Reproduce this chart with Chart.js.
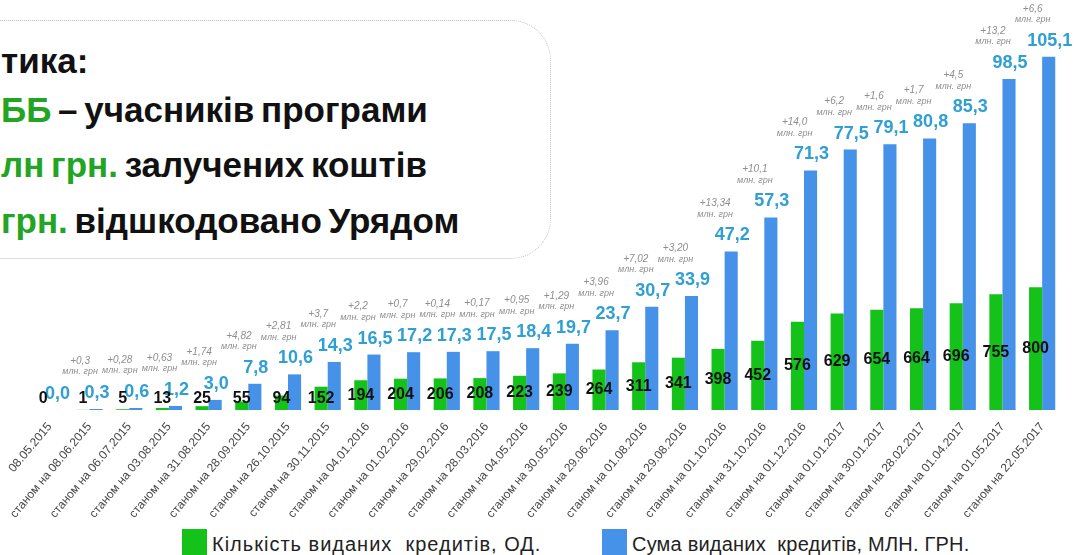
<!DOCTYPE html>
<html lang="uk">
<head>
<meta charset="UTF-8">
<title>Кредити</title>
<script src="https://cdn.jsdelivr.net/npm/chart.js"></script>
<style>
  html, body { margin: 0; padding: 0; background: #fff; }
  body { width: 1081px; height: 555px; overflow: hidden; position: relative; font-family: "Liberation Sans", Arial, sans-serif; }
  .chart-box { position: absolute; left: 0; top: 0; width: 1081px; height: 528px; }
  .info { position: absolute; left: -60px; top: 20px; width: 609px; height: 237px; border: 1.5px dotted #bdbdbd; border-radius: 40px; }
  .info p { position: absolute; left: 60px; margin: 0; font-weight: bold; font-size: 35px; color: #111; white-space: nowrap; line-height: 1; word-spacing: -3px; }
  .info .g { color: #22a522; }
  .legend .item { position: absolute; top: 529px; display: flex; align-items: flex-start; font-size: 20px; color: #222; white-space: nowrap; }
  .legend .sq { width: 25px; height: 28px; margin-right: 5px; }
  .legend .txt { padding-top: 4px; }
</style>
</head>
<body>
<div class="info">
  <p style="top:22px">тика:</p>
  <p style="top:71px"><span class="g">ББ</span> – учасників програми</p>
  <p style="top:126px"><span class="g">лн грн.</span> залучених коштів</p>
  <p style="top:182px"><span class="g">грн.</span> відшкодовано Урядом</p>
</div>
<div class="chart-box"><canvas id="loansChart"></canvas></div>
<div class="legend" id="legend"></div>

<script>
const dates = ['08.05.2015', 'станом на 08.06.2015', 'станом на 06.07.2015', 'станом на 03.08.2015',
  'станом на 31.08.2015', 'станом на 28.09.2015', 'станом на 26.10.2015', 'станом на 30.11.2015',
  'станом на 04.01.2016', 'станом на 01.02.2016', 'станом на 29.02.2016', 'станом на 28.03.2016',
  'станом на 04.05.2016', 'станом на 30.05.2016', 'станом на 29.06.2016', 'станом на 01.08.2016',
  'станом на 29.08.2016', 'станом на 01.10.2016', 'станом на 31.10.2016', 'станом на 01.12.2016',
  'станом на 01.01.2017', 'станом на 30.01.2017', 'станом на 28.02.2017', 'станом на 01.04.2017',
  'станом на 01.05.2017', 'станом на 22.05.2017'];

const loanCount = [0, 1, 5, 13, 25, 55, 94, 152, 194, 204, 206, 208, 223, 239, 264, 311, 341,
  398, 452, 576, 629, 654, 664, 696, 755, 800];

const loanSum = [0.0, 0.3, 0.6, 1.2, 3.0, 7.8, 10.6, 14.3, 16.5, 17.2, 17.3, 17.5, 18.4, 19.7,
  23.7, 30.7, 33.9, 47.2, 57.3, 71.3, 77.5, 79.1, 80.8, 85.3, 98.5, 105.1];

// прирости суми між датами, як підписано на слайді
const sumIncrease = ['', '+0,3', '+0,28', '+0,63', '+1,74', '+4,82', '+2,81', '+3,7', '+2,2', '+0,7',
  '+0,14', '+0,17', '+0,95', '+1,29', '+3,96', '+7,02', '+3,20', '+13,34', '+10,1', '+14,0',
  '+6,2', '+1,6', '+1,7', '+4,5', '+13,2', '+6,6'];

const seriesNames = ['Кількість виданих  кредитів, ОД.', 'Сума виданих  кредитів, МЛН. ГРН.'];
const seriesColors = ['#14c21a', '#4692e8'];

const FONT = '"Liberation Sans", Arial, sans-serif';

const barLabels = {
  id: 'barLabels',
  afterDatasetsDraw(chart) {
    const ctx = chart.ctx;
    const green = chart.getDatasetMeta(0).data;
    const blue = chart.getDatasetMeta(1).data;
    ctx.save();
    ctx.textAlign = 'center';
    ctx.textBaseline = 'middle';

    blue.forEach((bar, i) => {
      ctx.font = 'bold 18px ' + FONT;
      ctx.fillStyle = '#2f9fd4';
      ctx.fillText(loanSum[i].toFixed(1).replace('.', ','), bar.x + 1, bar.y - 16);
      if (sumIncrease[i]) {
        ctx.fillStyle = '#8e8e8e';
        ctx.font = 'italic 10px ' + FONT;
        ctx.fillText(sumIncrease[i], bar.x - 16, bar.y - 48);
        ctx.font = 'italic 9px ' + FONT;
        ctx.fillText('млн. грн', bar.x - 16, bar.y - 37);
      }
    });

    green.forEach((bar, i) => {
      const y = Math.min((bar.y + bar.base) / 2, bar.base - 11);
      ctx.font = 'bold 16px ' + FONT;
      ctx.fillStyle = '#111';
      ctx.fillText(String(loanCount[i]), bar.x, y);
    });
    ctx.restore();
  }
};

const loansChart = new Chart(document.getElementById('loansChart'), {
  type: 'bar',
  data: {
    labels: dates,
    datasets: [{
      label: seriesNames[0],
      data: loanCount,
      backgroundColor: seriesColors[0],
      yAxisID: 'yCount',
      categoryPercentage: 0.66,
      barPercentage: 1.0
    }, {
      label: seriesNames[1],
      data: loanSum,
      backgroundColor: seriesColors[1],
      yAxisID: 'ySum',
      categoryPercentage: 0.66,
      barPercentage: 1.0
    }]
  },
  options: {
    responsive: true,
    maintainAspectRatio: false,
    animation: false,
    layout: { padding: { left: 30, right: 19, top: 0, bottom: 0 } },
    plugins: {
      legend: { display: false },
      tooltip: { enabled: false }
    },
    scales: {
      x: {
        grid: { display: false },
        border: { display: false },
        ticks: {
          minRotation: 50,
          maxRotation: 50,
          autoSkip: false,
          padding: 2,
          color: '#444',
          font: { family: FONT, size: 12 }
        },
        afterFit(scale) { scale.height = 118; }
      },
      yCount: { display: false, min: 0, max: 2673 },
      ySum: { display: false, min: 0, max: 122 }
    }
  },
  plugins: [barLabels]
});

// легенда під графіком
const legend = document.getElementById('legend');
const legendLeft = [182, 602];
loansChart.data.datasets.forEach((ds, i) => {
  const item = document.createElement('div');
  item.className = 'item';
  item.style.left = legendLeft[i] + 'px';
  item.style.letterSpacing = i === 0 ? '1px' : '0.2px';
  item.innerHTML = '<div class="sq" style="background:' + ds.backgroundColor + '"></div><div class="txt"></div>';
  item.querySelector('.txt').textContent = ds.label.replace(/  /g, '\u00a0 ');
  legend.appendChild(item);
});
</script>
</body>
</html>
